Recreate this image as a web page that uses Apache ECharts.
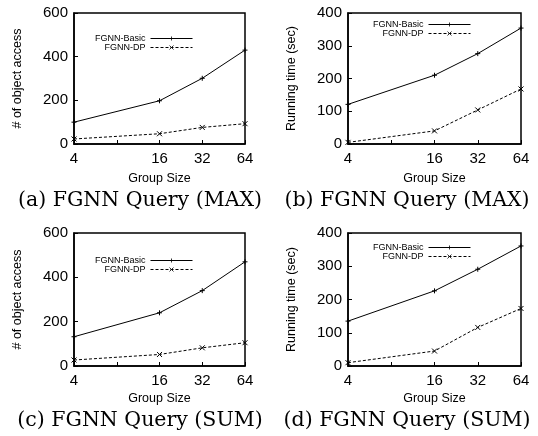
<!DOCTYPE html>
<html lang="en">
<head>
	<meta charset="UTF-8">
	<title>FGNN Query</title>
</head>
<body style="margin:0;background:#fff;">
<div id="chart" style="width:538px;height:436px;"></div>
<script src="https://cdn.jsdelivr.net/npm/echarts@6/dist/echarts.min.js"></script>
<script>
	// group sizes on the x axis (log2 scale)
	var groupSizes = [4, 16, 32, 64];

	// (a) object access, MAX
	var accMaxBasic = [100, 198, 301, 430];
	var accMaxDP = [23, 47, 76, 93];
	// (b) running time, MAX
	var timeMaxBasic = [121, 210, 276, 354];
	var timeMaxDP = [5, 40, 104, 168];
	// (c) object access, SUM
	var accSumBasic = [132, 240, 340, 470];
	var accSumDP = [27, 52, 82, 105];
	// (d) running time, SUM
	var timeSumBasic = [135, 226, 291, 361];
	var timeSumDP = [10, 45, 116, 173];

	var captions = ['(a) FGNN Query (MAX)', '(b) FGNN Query (MAX)', '(c) FGNN Query (SUM)', '(d) FGNN Query (SUM)'];
	var yNames = ['# of object access', 'Running time (sec)', '# of object access', 'Running time (sec)'];
	var xName = 'Group Size';

	var myChart = echarts.init(document.getElementById('chart'));

	var sans = 'Liberation Sans';
	var grids = [
		{left: 74, top: 13, width: 171, height: 131},
		{left: 348, top: 13, width: 173, height: 131},
		{left: 74, top: 233, width: 171, height: 133},
		{left: 348, top: 233, width: 173, height: 133}
	];
	var yMax = [600, 400, 600, 400];
	var yInt = [200, 100, 200, 100];
	var xGap = [28, 28, 26, 26];
	var legendPos = [
		{right: 345, top: 34},
		{right: 67, top: 20},
		{right: 345, top: 256},
		{right: 67, top: 243}
	];
	var captionX = [135, 402, 135, 402];
	var captionY = [185, 185, 405, 405];
	var seriesData = [
		[accMaxBasic, accMaxDP],
		[timeMaxBasic, timeMaxDP],
		[accSumBasic, accSumDP],
		[timeSumBasic, timeSumDP]
	];

	var plusSym = 'path://M0,5L10,5M5,0L5,10';
	var crossSym = 'path://M0,0L10,10M0,10L10,0';

	function pairs(vals) {
		return groupSizes.map(function (g, i) { return [g, vals[i]]; });
	}

	var option = {
		animation: false,
		grid: [], xAxis: [], yAxis: [], series: [], legend: [], title: []
	};

	for (var k = 0; k < 4; k++) {
		option.grid.push(Object.assign({show: true, borderColor: '#000', borderWidth: 1.5, backgroundColor: 'transparent'}, grids[k]));
		option.xAxis.push({
			gridIndex: k,
			type: 'log',
			logBase: 2,
			min: 4,
			max: 64,
			name: xName,
			nameLocation: 'middle',
			nameGap: xGap[k],
			nameTextStyle: {fontFamily: sans, fontSize: 12.5, color: '#000'},
			axisLine: {lineStyle: {color: '#000', width: 1.5}},
			axisTick: {inside: true, length: 4, lineStyle: {color: '#000'}},
			axisLabel: {
				fontFamily: sans, fontSize: 15, color: '#000', margin: 7,
				formatter: function (v) { return v === 8 ? '' : String(v); }
			},
			splitLine: {show: false}
		});
		option.yAxis.push({
			gridIndex: k,
			type: 'value',
			min: 0,
			max: yMax[k],
			interval: yInt[k],
			name: yNames[k],
			nameLocation: 'middle',
			nameRotate: 90,
			nameGap: 50,
			nameTextStyle: {fontFamily: sans, fontSize: 12.5, color: '#000'},
			axisLine: {show: true, lineStyle: {color: '#000', width: 1.5}},
			axisTick: {show: true, inside: true, length: 4, lineStyle: {color: '#000'}},
			axisLabel: {fontFamily: sans, fontSize: 15, color: '#000', margin: 6},
			splitLine: {show: false}
		});
		option.series.push({
			name: 'FGNN-Basic',
			type: 'line',
			xAxisIndex: k,
			yAxisIndex: k,
			data: pairs(seriesData[k][0]),
			symbol: plusSym,
			symbolSize: 5,
			itemStyle: {color: '#000', borderColor: '#000', borderWidth: 1},
			lineStyle: {color: '#000', width: 1}
		});
		option.series.push({
			name: 'FGNN-DP',
			type: 'line',
			xAxisIndex: k,
			yAxisIndex: k,
			data: pairs(seriesData[k][1]),
			symbol: crossSym,
			symbolSize: 5,
			itemStyle: {color: '#000', borderColor: '#000', borderWidth: 1},
			lineStyle: {color: '#000', width: 1, type: [3, 2]}
		});
		option.legend.push(Object.assign({
			orient: 'vertical',
			align: 'right',
			itemWidth: 42,
			itemHeight: 5,
			itemGap: 0,
			padding: 0,
			lineStyle: {width: 1},
			itemStyle: {borderWidth: 0.8},
			textStyle: {fontFamily: sans, fontSize: 9, color: '#000'},
			data: ['FGNN-Basic', 'FGNN-DP']
		}, legendPos[k]));
		option.title.push({
			text: captions[k],
			left: captionX[k],
			top: captionY[k],
			textAlign: 'center',
			textStyle: {fontFamily: 'DejaVu Serif', fontSize: 20.5, fontWeight: 'normal', color: '#000'}
		});
	}

	myChart.setOption(option);
</script>
</body>
</html>
